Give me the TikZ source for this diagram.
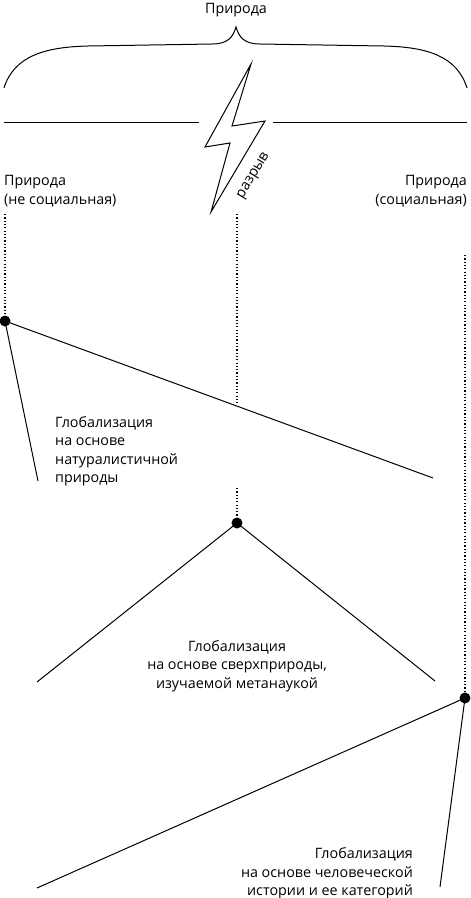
\documentclass[tikz,border=0pt]{standalone}
\usepackage{fontspec}
\setmainfont{Open Sans}
\begin{document}
\begin{tikzpicture}[x=1pt,y=-1pt,
  ln/.style={line width=1pt,black},
  dotline/.style={line width=1.8pt,dash pattern=on 1.2pt off 2.1pt},
  dotnode/.style={circle,fill=black,inner sep=0pt,minimum size=11pt},
  lbl/.style={font=\fontsize{14.3}{18.5}\selectfont,inner sep=0pt}]
\useasboundingbox (0,0) rectangle (471,898);
% title and brace
\node[lbl,anchor=base] (title) at (236,13) {Природа};
\draw[ln] (4,88) .. controls (14,56) and (45,47) .. (88,46) -- (212,44) .. controls (228,44) and (233,37) .. (236,27) .. controls (239,37) and (244,44) .. (260,44) -- (384,46) .. controls (427,47) and (457,56) .. (467,88);
% horizontal lines
\coordinate (hl1) at (4,122); \coordinate (hl2) at (199,122);
\coordinate (hr1) at (273,122); \coordinate (hr2) at (467,122);
\draw[ln] (hl1) -- (hl2);
\draw[ln] (hr1) -- (hr2);
% lightning
\draw[ln,line join=miter] (251,64) -- (205,147) -- (230,143) -- (211,212) -- (265,121) -- (232,126) -- cycle;
\node[lbl,rotate=59] (gap) at (254,176) {разрыв};
% side labels
\node[lbl,anchor=base west,align=left] (natL) at (4,204) {Природа\\(не социальная)};
\node[lbl,anchor=base east,align=right] (natR) at (467,204) {Природа\\(социальная)};
% nodes (dots)
\node[dotnode] (d1) at (5,321) {};
\node[dotnode] (d2) at (237,523) {};
\node[dotnode] (d3) at (465,698) {};
% dotted lines
\coordinate (t1) at (5,214);
\coordinate (t2a) at (237,214); \coordinate (t2b) at (237,404);
\coordinate (t2c) at (237,488);
\coordinate (t3) at (465,255);
\draw[dotline] (t1) -- (d1.center);
\draw[dotline] (t2a) -- (t2b);
\draw[dotline] (t2c) -- (d2.center);
\draw[dotline] (t3) -- (d3.center);
% branches
\coordinate (e1a) at (433,478); \coordinate (e1b) at (38,481);
\coordinate (e2a) at (37,682); \coordinate (e2b) at (435,681);
\coordinate (e3a) at (37,888); \coordinate (e3b) at (440,887);
\draw[ln] (d1.center) -- (e1a);
\draw[ln] (d1.center) -- (e1b);
\draw[ln] (d2.center) -- (e2a);
\draw[ln] (d2.center) -- (e2b);
\draw[ln] (d3.center) -- (e3a);
\draw[ln] (d3.center) -- (e3b);
% texts
\node[lbl,anchor=north west,align=left] (g1) at (55,416) {Глобализация\\на основе\\натуралистичной\\природы};
\node[lbl,anchor=north,align=center] (g2) at (237,640) {Глобализация\\на основе сверхприроды,\\изучаемой метанаукой};
\node[lbl,anchor=north east,align=right] (g3) at (413,847.5) {Глобализация\\на основе человеческой\\истории и ее категорий};
\end{tikzpicture}
\end{document}
